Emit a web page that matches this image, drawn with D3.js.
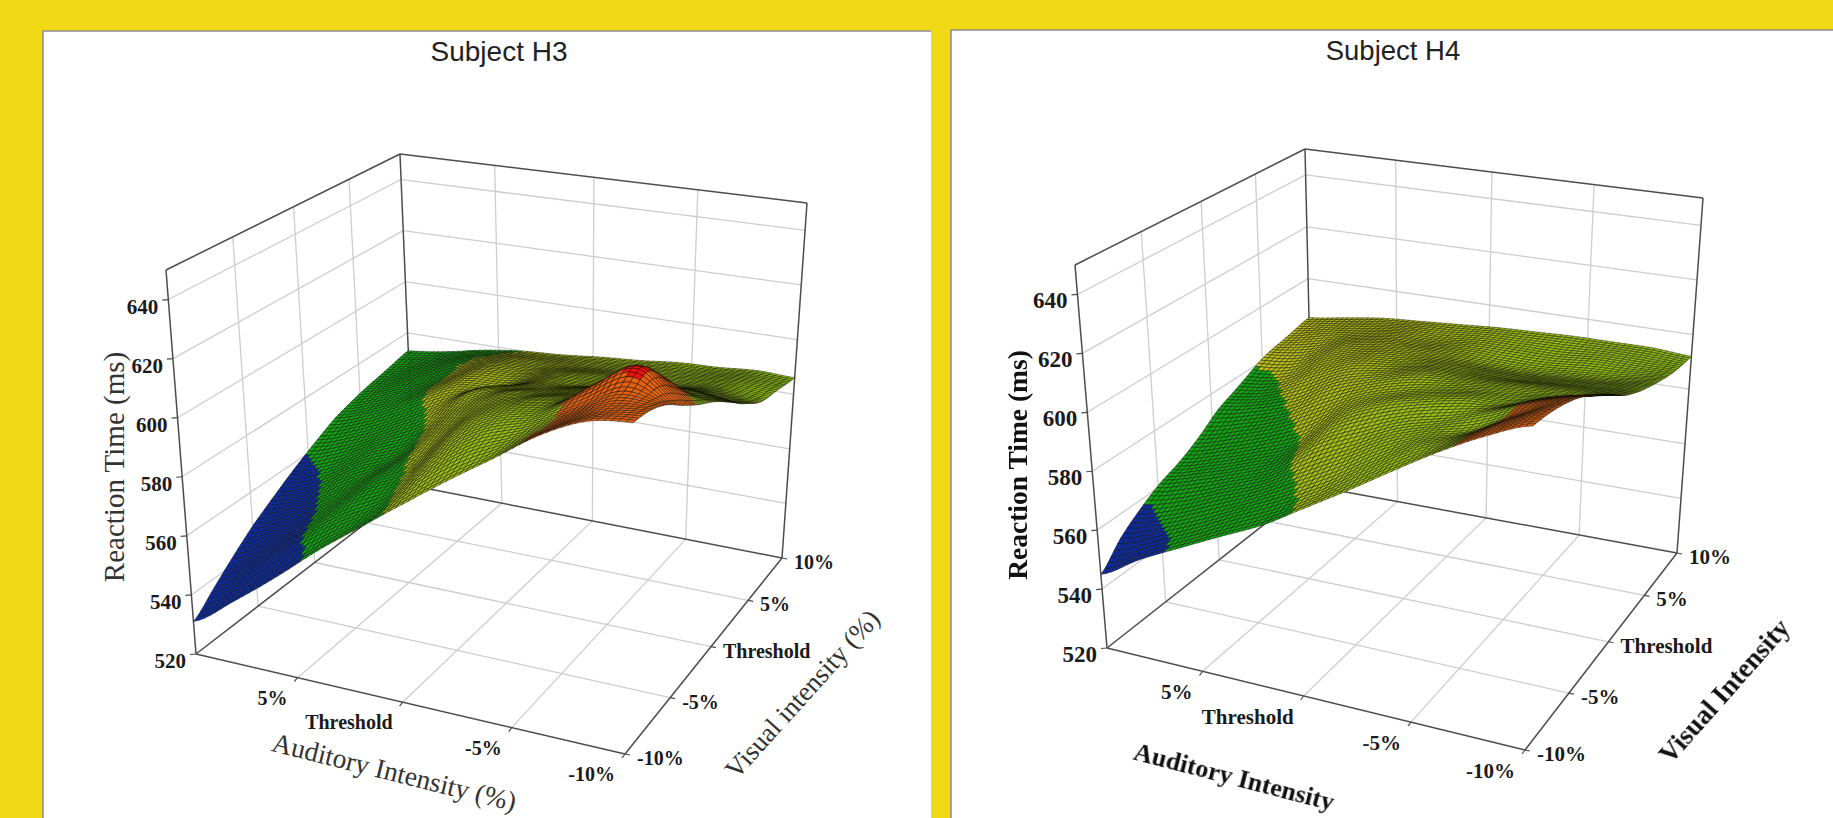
<!DOCTYPE html>
<html><head><meta charset="utf-8">
<script src="https://cdn.jsdelivr.net/npm/d3@7"></script>
<style>
html,body{margin:0;padding:0;background:#f2d916;overflow:hidden}
svg{display:block;filter:blur(0.6px)}
</style></head><body>
<svg id="chart" width="1833" height="818"></svg>
<script>
// ---------- data ----------
// grid positions at which the surface heights were read
const auditoryGrid = [10, 7.9, 5.8, 3.7, 1.6, -0.5, -2.4, -4.4, -6.3, -8.2, -10];
const visualGrid = [-10, -8.3, -6.6, -4.9, -3, -1.2, 0.6, 2.6, 5.1, 7.5, 10];
const auditoryTicks = [5, 0, -5, -10];
const auditoryTickLabels = ["5%", "Threshold", "-5%", "-10%"];
const visualTicks = [-10, -5, 0, 5, 10];
const visualTickLabels = ["-10%", "-5%", "Threshold", "5%", "10%"];
const reactionTicks = [520, 540, 560, 580, 600, 620, 640];
const contourLevelsH3 = [560, 580, 612, 625.5];
const contourLevelsH4 = [558, 579.5, 612, 640];
const contourColors = ["#0c2a9e", "#10a312", "olive", "#e4600f", "#f01010"];
// rows: visual -10 % .. +10 %, columns: auditory +10 % .. -10 %
const surfaceH3 = [
  [531,541,552,564,575,586,596,606,616,623,625],
  [537,547,558,568,577,590,600,607,615,622,624],
  [543,551,561,572,580,594,603,608,615,623,621],
  [548.5,555,564,574,583,597,604,608,618,626.5,616],
  [553.5,559,568,575,587,598,603,606,612,619,611],
  [558,563,571,578,590,598,600,603,606,609,607],
  [562,567,574,582,592,595,597,600,603,604,602],
  [566,571,578,585,587,592,593,595,597,597.5,596],
  [569,574,579,585,586,589,590,590,591,592,590],
  [571,575,579.5,583,584,585,586,587,588,589,588],
  [573,575,578,580,581,582.5,583.5,585,585.5,586.5,586]
];
const surfaceH4 = [
  [545,553,560,567,574,583,591.5,601,610,618,624],
  [552,557,563,570,577,585,594,603,609,617,623],
  [557,561,567,573,581,589,597,603,607,615,621],
  [561,565,570,576,586,593,599,603,608,614,618],
  [564,568,573,579,590,597,601,604,605,610,613],
  [568,572,577,584,592,597,600,602,603,605,608],
  [573,576,581,589,594,598,599,600,601,602,603],
  [576.5,579,586,592,594,596,596,596,597,598,599],
  [581,583,589,592,593,593,592,592,593,594,595.5],
  [583,586,589,591,591,592,592,592,593,593,593],
  [585,587,589,590,591,592,592.5,593,593,593,592]
];

// ---------- scales ----------
const auditoryScale = d3.scaleLinear().domain([10, -10]).range([0, 1]);
const visualScale = d3.scaleLinear().domain([-10, 10]).range([0, 1]);
const reactionScale = d3.scaleLinear().domain([520, 650]).range([0, 1]);
const columnOf = d3.scaleLinear().domain(auditoryGrid).range(d3.range(auditoryGrid.length));
const rowOf = d3.scaleLinear().domain(visualGrid).range(d3.range(visualGrid.length));
const oliveTint = d3.scaleLinear().domain([10, -10]).range(["#bcc014", "#8cc010"]);

// unit square -> quadrilateral (projective)
function homography(p00, p10, p11, p01) {
  const dx1 = p10[0]-p11[0], dx2 = p01[0]-p11[0], sx = p00[0]-p10[0]+p11[0]-p01[0];
  const dy1 = p10[1]-p11[1], dy2 = p01[1]-p11[1], sy = p00[1]-p10[1]+p11[1]-p01[1];
  const det = dx1*dy2-dx2*dy1;
  const g = (sx*dy2-dx2*sy)/det, h = (dx1*sy-sx*dy1)/det;
  const a = p10[0]-p00[0]+g*p10[0], b = p01[0]-p00[0]+h*p01[0], c = p00[0];
  const d = p10[1]-p00[1]+g*p10[1], e = p01[1]-p00[1]+h*p01[1], f = p00[1];
  return (u, v) => { const w = g*u+h*v+1; return [(a*u+b*v+c)/w, (d*u+e*v+f)/w]; };
}
function catmull(p0, p1, p2, p3, t) {
  return 0.5*((2*p1)+(-p0+p2)*t+(2*p0-5*p1+4*p2-p3)*t*t+(-p0+3*p1-3*p2+p3)*t*t*t);
}
function sampler(rows) {
  const nr = rows.length-1, nc = rows[0].length-1;
  const at = (r, c) => rows[Math.max(0, Math.min(nr, r))][Math.max(0, Math.min(nc, c))];
  return (aud, vis) => {
    const fc = columnOf(aud), fr = rowOf(vis);
    const c = Math.min(nc-1, Math.floor(fc)), r = Math.min(nr-1, Math.floor(fr));
    const tc = fc-c, tr = fr-r;
    const col = [-1,0,1,2].map(i => catmull(at(r+i,c-1), at(r+i,c), at(r+i,c+1), at(r+i,c+2), tc));
    return catmull(col[0], col[1], col[2], col[3], tr);
  };
}

const svg = d3.select("#chart");
const GRID = "#cdcdd2", BOX = "#4c4c4c";
const MESH = 70;

function drawPanel(cfg) {
  const g = svg.append("g");
  g.append("rect").attr("x", cfg.panel[0]).attr("y", cfg.panel[1]).attr("width", cfg.panel[2]).attr("height", cfg.panel[3]).attr("fill", "#fff");
  g.append("path").attr("d", `M${cfg.panel[0]},${818}V${cfg.panel[1]}H${cfg.panel[0]+cfg.panel[2]}`).attr("fill","none").attr("stroke","#8f8f8f").attr("stroke-width",1.6);

  const floor = homography(cfg.D, cfg.F, cfg.E, cfg.G);
  const roof = homography(cfg.B, cfg.H, cfg.C, cfg.A);
  const project = (aud, vis, rt) => {
    const u = auditoryScale(aud), v = visualScale(vis), w = reactionScale(rt);
    const a = floor(u, v), b = roof(u, v);
    return [a[0]+(b[0]-a[0])*w, a[1]+(b[1]-a[1])*w];
  };
  const seg = (parent, p, q, color, width) => parent.append("line")
    .attr("x1", p[0]).attr("y1", p[1]).attr("x2", q[0]).attr("y2", q[1])
    .attr("stroke", color).attr("stroke-width", width);

  // grid lines
  const grid = g.append("g").attr("class", "grid");
  const zMin = reactionScale.domain()[0], zMax = reactionScale.domain()[1];
  reactionTicks.slice(1).forEach(t => {
    seg(grid, project(10,-10,t), project(10,10,t), GRID, 1.3);
    seg(grid, project(10,10,t), project(-10,10,t), GRID, 1.3);
  });
  auditoryTicks.slice(0,3).forEach(t => {
    seg(grid, project(t,-10,zMin), project(t,10,zMin), GRID, 1.3);
    seg(grid, project(t,10,zMin), project(t,10,zMax), GRID, 1.3);
  });
  visualTicks.slice(1,4).forEach(t => {
    seg(grid, project(10,t,zMin), project(-10,t,zMin), GRID, 1.3);
    seg(grid, project(10,t,zMin), project(10,t,zMax), GRID, 1.3);
  });

  // box
  const box = g.append("g").attr("class", "box");
  [[[10,-10,zMax],[10,10,zMax]],[[10,10,zMax],[-10,10,zMax]],
   [[10,-10,zMin],[10,-10,zMax]],[[10,10,zMin],[10,10,zMax]],[[-10,10,zMin],[-10,10,zMax]],
   [[10,10,zMin],[-10,10,zMin]],[[10,10,zMin],[10,-10,zMin]],
   [[10,-10,zMin],[-10,-10,zMin]],[[-10,-10,zMin],[-10,10,zMin]]]
   .forEach(([a,b]) => seg(box, project(...a), project(...b), BOX, 1.5));

  // surface: painted from the far corner to the near corner
  const z = sampler(cfg.surface);
  const band = d3.scaleThreshold().domain(cfg.levels).range(contourColors);
  const aStep = d3.scaleLinear().domain([0, MESH]).range([10, -10]);
  const vStep = d3.scaleLinear().domain([0, MESH]).range([-10, 10]);
  const node = (i, j) => project(aStep(i), vStep(j), z(aStep(i), vStep(j)));
  const cells = [];
  for (let j = MESH-1; j >= 0; j--) for (let i = 0; i < MESH; i++) cells.push([i, j]);
  g.append("g").attr("class", "surface").selectAll("path").data(cells).join("path")
    .attr("d", ([i, j]) => {
      const p = d3.path(), a = node(i,j), b = node(i+1,j), c = node(i+1,j+1), d = node(i,j+1);
      p.moveTo(a[0],a[1]); p.lineTo(b[0],b[1]); p.lineTo(c[0],c[1]); p.lineTo(d[0],d[1]); p.closePath();
      return p.toString();
    })
    .attr("fill", ([i, j]) => {
      const c = band(z(aStep(i+.5), vStep(j+.5)));
      return c === "olive" ? oliveTint(aStep(i+.5)) : c;
    })
    .attr("stroke", "#0c0c04").attr("stroke-width", 0.45).attr("stroke-linejoin", "round");

  // ticks and labels
  const labels = g.append("g").attr("font-family", "'Liberation Serif','Times New Roman',serif")
    .attr("font-weight", "bold").attr("font-size", cfg.tickSize).attr("fill", "#1a1a1a");
  const tickLen = 6;
  reactionTicks.forEach(t => {
    const p = project(10,-10,t);
    seg(box, p, [p[0]-tickLen, p[1]+0.5], BOX, 1.2);
    labels.append("text").attr("x", p[0]-10).attr("y", p[1]+cfg.zDy).attr("text-anchor","end").attr("font-size",cfg.zSize).text(t);
  });
  auditoryTicks.forEach((t,i) => {
    const p = project(t,-10,zMin);
    seg(box, p, [p[0]-3, p[1]+4], BOX, 1.2);
    labels.append("text").attr("x", p[0]-10).attr("y", p[1]+cfg.aDy).attr("text-anchor","end").text(auditoryTickLabels[i]);
  });
  visualTicks.forEach((t,i) => {
    const p = project(-10,t,zMin);
    seg(box, p, [p[0]+5, p[1]+1], BOX, 1.2);
    labels.append("text").attr("x", p[0]+12).attr("y", p[1]+cfg.vDy).attr("text-anchor","start").text(visualTickLabels[i]);
  });

  // titles
  g.append("text").attr("x", cfg.title[1]).attr("y", cfg.title[2]).attr("text-anchor","middle")
    .attr("font-family","'Liberation Sans',Arial,sans-serif").attr("font-size",cfg.title[3]).attr("fill","#222").text(cfg.title[0]);
  cfg.axisTitles.forEach(([text,x,y,angle,size]) => {
    g.append("text").attr("transform",`translate(${x},${y}) rotate(${angle})`).attr("text-anchor","middle")
      .attr("font-family","'Liberation Serif','Times New Roman',serif").attr("font-weight",cfg.axisWeight)
      .attr("font-size",size).attr("fill",cfg.axisFill).text(text);
  });
}

drawPanel({
  panel:[43,31,888,787], surface:surfaceH3, levels:contourLevelsH3,
  A:[400,154],B:[166,270],C:[807,203],D:[196,654],E:[782,558],F:[625,754],G:[414,486],H:[635,344],
  tickSize:20, zSize:21, zDy:14, aDy:27, vDy:11,
  title:["Subject H3",499,61,28],
  axisWeight:"normal", axisFill:"#333",
  axisTitles:[["Reaction Time (ms)",124,467,-90,29],["Auditory Intensity (%)",392,781,14,27.5],["Visual intensity (%)",809,700,-48,27]]
});
drawPanel({
  panel:[951,30,882,788], surface:surfaceH4, levels:contourLevelsH4,
  A:[1305,149],B:[1075,265],C:[1703,198],D:[1107,648],E:[1677,553],F:[1525,750],G:[1313,486],H:[1535,345],
  tickSize:21, zSize:23, zDy:14, aDy:28, vDy:11,
  title:["Subject H4",1393,60,27.5],
  axisWeight:"bold", axisFill:"#111",
  axisTitles:[["Reaction Time (ms)",1027,465,-90,27.5],["Auditory Intensity",1232,785,14.5,26],["Visual Intensity",1731,697,-48.5,27]]
});
</script>
</body></html>
